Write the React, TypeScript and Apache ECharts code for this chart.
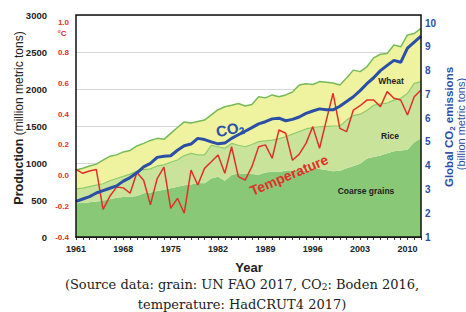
import React, { useEffect, useRef } from "react";
import * as echarts from "echarts";

const years = Array.from({ length: 52 }, (_, i) => String(1961 + i));

const coarseGrains = [
  455, 460, 470, 480, 490, 510, 530, 540, 545, 555,
  590, 600, 620, 640, 660, 680, 700, 710, 730, 725,
  790, 815, 760, 838, 860, 850, 850, 840, 870, 883,
  880, 895, 890, 905, 890, 920, 920, 905, 890, 895,
  930, 960, 990, 1060, 1080, 1100, 1131, 1160, 1170, 1180,
  1280, 1333,
];

const rice = [
  195, 200, 210, 220, 230, 250, 260, 280, 305, 335,
  320, 320, 340, 335, 350, 360, 400, 420, 380, 385,
  450, 405, 440, 427, 380, 370, 400, 450, 430, 427,
  450, 460, 500, 520, 570, 560, 570, 590, 610, 605,
  650, 680, 670, 650, 700, 700, 679, 690, 705, 760,
  795, 767,
];

const wheat = [
  255, 270, 280, 285, 320, 330, 320, 330, 320, 340,
  355, 385, 373, 345, 390, 440, 455, 410, 450, 470,
  410, 500, 560, 515, 565, 550, 540, 605, 580, 610,
  565, 565, 570, 630, 610, 580, 610, 595, 580, 555,
  570, 615, 575, 590, 640, 670, 670, 745, 695, 790,
  675, 720,
];

const co2 = [
  2.5, 2.6, 2.7, 2.85, 2.95, 3.05, 3.15, 3.35, 3.5, 3.7,
  3.95, 4.1, 4.35, 4.4, 4.42, 4.65, 4.84, 4.91, 5.15, 5.1,
  5.0, 4.92, 4.95, 5.15, 5.3, 5.45, 5.6, 5.76, 5.85, 5.97,
  6.0, 5.89, 5.95, 6.05, 6.2, 6.3, 6.39, 6.35, 6.35, 6.5,
  6.7, 6.9, 7.16, 7.45, 7.7, 8.0, 8.22, 8.43, 8.35, 8.95,
  9.2, 9.45,
];

const temperature = [
  0.04, 0.015, 0.03, 0.04, -0.22, -0.135, -0.075, -0.08, -0.115, 0.02,
  -0.03, -0.19, -0.02, 0.055, -0.213, -0.148, -0.245, 0.036, -0.061, 0.047,
  0.09, 0.134, 0.015, 0.188, -0.007, -0.029, 0.058, 0.188, 0.2, 0.113,
  0.297, 0.276, 0.1, 0.14, 0.21, 0.319, 0.178, 0.36, 0.536, 0.308,
  0.286, 0.427, 0.455, 0.492, 0.492, 0.449, 0.547, 0.504, 0.492, 0.395,
  0.514, 0.558,
];

const SANS = "Liberation Sans, Arial, sans-serif";
const BLUE = "#2b4ea6";
const RED = "#e0302a";

export default function App() {
  const ref = useRef<HTMLDivElement>(null);
  useEffect(() => {
    if (!ref.current) return;
    const chart = echarts.init(ref.current, undefined, { renderer: "svg" });
    const option: any = {
      animation: false,
      grid: { left: 76, top: 15, right: 45, bottom: 75 },
      xAxis: {
        type: "category",
        data: years,
        boundaryGap: false,
        axisLine: { show: true, lineStyle: { color: "#111", width: 1.5 } },
        axisTick: { show: true, interval: 0, length: 3, lineStyle: { color: "#333" } },
        axisLabel: {
          interval: 6,
          margin: 7,
          fontFamily: SANS,
          fontWeight: "bold",
          fontSize: 9,
          color: "#222",
        },
        splitLine: { show: false },
      },
      yAxis: [
        {
          type: "value",
          min: 0,
          max: 3000,
          interval: 500,
          position: "left",
          axisLine: { show: false },
          axisTick: { show: false },
          axisLabel: {
            margin: 29,
            fontFamily: SANS,
            fontWeight: "bold",
            fontSize: 9.5,
            color: "#222",
            formatter: (v: number) => String(v),
          },
          splitLine: { show: true, lineStyle: { color: "#d6d6d6", width: 1 } },
        },
        {
          type: "value",
          min: -0.4,
          max: 1.046,
          interval: 0.2,
          position: "left",
          axisLine: { show: false },
          axisTick: { show: false },
          axisLabel: {
            margin: 7,
            showMaxLabel: false,
            fontFamily: SANS,
            fontWeight: "bold",
            fontSize: 8,
            color: RED,
            formatter: (v: number) => v.toFixed(1),
          },
          splitLine: { show: false },
        },
        {
          type: "value",
          min: 1,
          max: 10.34,
          interval: 1,
          position: "right",
          axisLine: { show: false },
          axisTick: { show: false },
          axisLabel: {
            margin: 4,
            showMaxLabel: false,
            fontFamily: SANS,
            fontWeight: "bold",
            fontSize: 10,
            color: BLUE,
          },
          splitLine: { show: false },
        },
      ],
      series: [
        {
          name: "Coarse grains",
          type: "line",
          stack: "grain",
          data: coarseGrains,
          symbol: "none",
          lineStyle: { width: 0, color: "#88c877" },
          areaStyle: { color: "#88c877", opacity: 1 },
          z: 2,
        },
        {
          name: "Rice",
          type: "line",
          stack: "grain",
          data: rice,
          symbol: "none",
          lineStyle: { width: 1.2, color: "#8fca6c" },
          areaStyle: { color: "#c9e49a", opacity: 1 },
          z: 2,
        },
        {
          name: "Wheat",
          type: "line",
          stack: "grain",
          data: wheat,
          symbol: "none",
          lineStyle: { width: 1.5, color: "#76bb58" },
          areaStyle: { color: "#eff29f", opacity: 1 },
          z: 2,
        },
        {
          name: "Temperature",
          type: "line",
          yAxisIndex: 1,
          data: temperature,
          symbol: "none",
          lineStyle: { width: 1.5, color: RED },
          z: 3,
        },
        {
          name: "CO2",
          type: "line",
          yAxisIndex: 2,
          data: co2,
          symbol: "none",
          lineStyle: { width: 3, color: BLUE },
          z: 4,
        },
      ],
      graphic: [
        {
          type: "rect",
          shape: { x: 76, y: 15, width: 345, height: 222 },
          style: { fill: "transparent", stroke: "#111", lineWidth: 1.5 },
          z: 100,
        },
        {
          type: "text",
          x: 62,
          y: 33,
          style: {
            text: "°C",
            fill: RED,
            font: `bold 8px ${SANS}`,
            textAlign: "center",
            textVerticalAlign: "middle",
          },
        },
        {
          type: "text",
          x: 19,
          y: 118,
          rotation: Math.PI / 2,
          style: {
            text: "{b|Production} (million metric tons)",
            fill: "#222",
            font: `12px ${SANS}`,
            textAlign: "center",
            textVerticalAlign: "middle",
            rich: { b: { fontWeight: "bold", fontSize: 12.5, fontFamily: SANS, fill: "#222" } },
          },
        },
        {
          type: "text",
          x: 449,
          y: 127,
          rotation: Math.PI / 2,
          style: {
            text: "Global CO{s|2} emissions",
            fill: BLUE,
            font: `bold 11.5px ${SANS}`,
            textAlign: "center",
            textVerticalAlign: "middle",
            rich: { s: { fontSize: 8, fontWeight: "bold", fontFamily: SANS, fill: BLUE, padding: [6, 0, 0, 0] } },
          },
        },
        {
          type: "text",
          x: 461,
          y: 124,
          rotation: Math.PI / 2,
          style: {
            text: "(billion metric tons)",
            fill: BLUE,
            font: `11px ${SANS}`,
            textAlign: "center",
            textVerticalAlign: "middle",
          },
        },
        {
          type: "text",
          x: 230,
          y: 129,
          rotation: 0.2,
          style: {
            text: "CO{s|2}",
            fill: BLUE,
            font: `bold 15px ${SANS}`,
            textAlign: "center",
            textVerticalAlign: "middle",
            rich: { s: { fontSize: 10, fontWeight: "bold", fontFamily: SANS, fill: BLUE, padding: [8, 0, 0, 0] } },
          },
          z: 10,
        },
        {
          type: "text",
          x: 289,
          y: 175,
          rotation: 0.4,
          style: {
            text: "Temperature",
            fill: RED,
            font: `bold 14px ${SANS}`,
            textAlign: "center",
            textVerticalAlign: "middle",
          },
          z: 10,
        },
        {
          type: "text",
          x: 391,
          y: 81,
          style: { text: "Wheat", fill: "#222", font: `bold 8.5px ${SANS}`, textAlign: "center", textVerticalAlign: "middle" },
          z: 10,
        },
        {
          type: "text",
          x: 390,
          y: 136,
          style: { text: "Rice", fill: "#222", font: `bold 8.5px ${SANS}`, textAlign: "center", textVerticalAlign: "middle" },
          z: 10,
        },
        {
          type: "text",
          x: 366,
          y: 191,
          style: { text: "Coarse grains", fill: "#222", font: `bold 8.5px ${SANS}`, textAlign: "center", textVerticalAlign: "middle" },
          z: 10,
        },
        {
          type: "text",
          x: 249,
          y: 267,
          style: { text: "Year", fill: "#222", font: `bold 13px ${SANS}`, textAlign: "center", textVerticalAlign: "middle" },
        },
        {
          type: "text",
          x: 242,
          y: 284,
          style: {
            text: "(Source data: grain: UN FAO 2017, CO{s|2}: Boden 2016,",
            fill: "#222",
            font: `13px DejaVu Serif, serif`,
            textAlign: "center",
            textVerticalAlign: "middle",
            rich: { s: { fontSize: 9, fontFamily: "DejaVu Serif, serif", fill: "#222", padding: [6, 0, 0, 0] } },
          },
        },
        {
          type: "text",
          x: 242,
          y: 304,
          style: {
            text: "temperature: HadCRUT4 2017)",
            fill: "#222",
            font: `13px DejaVu Serif, serif`,
            textAlign: "center",
            textVerticalAlign: "middle",
          },
        },
      ],
    };
    chart.setOption(option);
    return () => chart.dispose();
  }, []);
  return (
    <div
      ref={ref}
      style={{ position: "fixed", left: 0, top: 0, width: 466, height: 312, background: "#fff" }}
    />
  );
}
